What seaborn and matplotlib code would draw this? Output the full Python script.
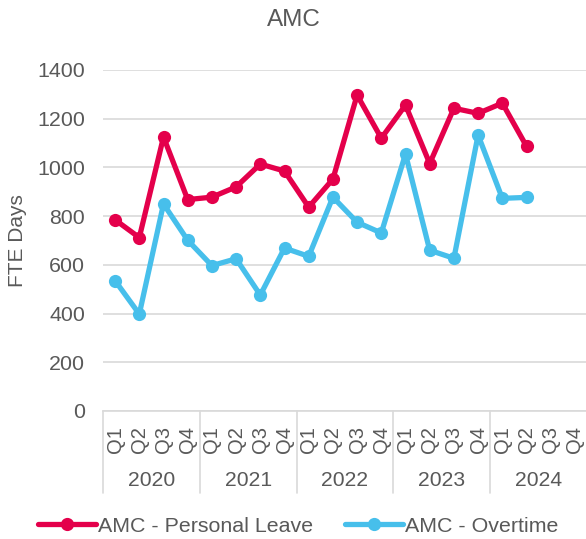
import numpy as np
import pandas as pd
import matplotlib
matplotlib.use("Agg")
import matplotlib.pyplot as plt
import matplotlib.transforms as mtransforms
from matplotlib.lines import Line2D
import seaborn as sns

# Quarterly FTE days for AMC
years = ["2020", "2021", "2022", "2023", "2024"]
quarters = ["Q1", "Q2", "Q3", "Q4"]
personal_leave = [785, 712, 1125, 868,
                  878, 920, 1014, 985,
                  837, 952, 1297, 1120,
                  1256, 1016, 1243, 1222,
                  1264, 1087]
overtime = [535, 398, 850, 701,
            597, 625, 476, 669,
            635, 878, 775, 731,
            1055, 660, 627, 1133,
            873, 877]
series_names = ["AMC - Personal Leave", "AMC - Overtime"]
colors = ["#E4004B", "#47BFEB"]
y_ticks = [0, 200, 400, 600, 800, 1000, 1200, 1400]

TEXT = "#595959"
GRID = "#D9D9D9"

sns.set_theme(style="white")
plt.rcParams["font.family"] = ["Liberation Sans", "DejaVu Sans"]

period_labels = [q for _ in years for q in quarters]
rows = []
for name, vals in zip(series_names, [personal_leave, overtime]):
    for i, v in enumerate(vals):
        rows.append({"idx": i, "value": v, "series": name})
df = pd.DataFrame(rows)

fig = plt.figure(figsize=(5.86, 5.39), dpi=100)
ax = fig.add_axes([103 / 586, 128 / 539, 484 / 586, 341 / 539])

sns.lineplot(data=df, x="idx", y="value", hue="series",
             hue_order=series_names, palette=colors,
             marker="o", markersize=9.5, markeredgewidth=0,
             linewidth=3.8, legend=False, ax=ax, zorder=3)

ax.set_xlim(-0.5, len(period_labels) - 0.5)
ax.set_ylim(0, 1400)
ax.set_yticks(y_ticks)
ax.set_yticklabels([str(t) for t in y_ticks], fontsize=15.4, color=TEXT)
ax.set_xticks(range(len(period_labels)))
ax.set_xticklabels(period_labels, rotation=90, fontsize=14.5, color=TEXT)
ax.tick_params(axis="y", length=0, pad=13)
ax.tick_params(axis="x", length=0, pad=11)
ax.set_xlabel("")
ax.set_ylabel("")

ax.yaxis.grid(True, color=GRID, linewidth=1.2)
ax.xaxis.grid(False)
for side in ["top", "right", "left"]:
    ax.spines[side].set_visible(False)
ax.spines["bottom"].set_color(GRID)
ax.spines["bottom"].set_linewidth(1.2)

# Year group labels and separators under the quarter labels
trans = mtransforms.blended_transform_factory(ax.transData, ax.transAxes)
sep_depth = 82 / 341
for k in range(len(years) + 1):
    xs = k * 4 - 0.5
    ax.plot([xs, xs], [0, -sep_depth], transform=trans, color=GRID,
            linewidth=1.2, clip_on=False)
for k, yr in enumerate(years):
    ax.text(k * 4 + 1.5, -69 / 341, yr, transform=trans, ha="center",
            va="center", fontsize=15.2, color=TEXT)

fig.text(0.501, 1 - 20 / 539, "AMC", ha="center", va="center",
         fontsize=17.5, color=TEXT)
fig.text(17.5 / 586, 1 - 241 / 539, "FTE Days", rotation=90, ha="center",
         va="center", fontsize=15, color=TEXT)

handles = [Line2D([], [], color=c, linewidth=3.8, marker="o",
                  markersize=9.5, markeredgewidth=0) for c in colors]
fig.legend(handles, series_names, loc="center",
           bbox_to_anchor=(298.5 / 586, 13 / 539), ncol=2, frameon=False,
           fontsize=15.4, labelcolor=TEXT, handlelength=2.7,
           handletextpad=0.1, columnspacing=1.5, borderaxespad=0)

fig.savefig("out.png", dpi=100)
